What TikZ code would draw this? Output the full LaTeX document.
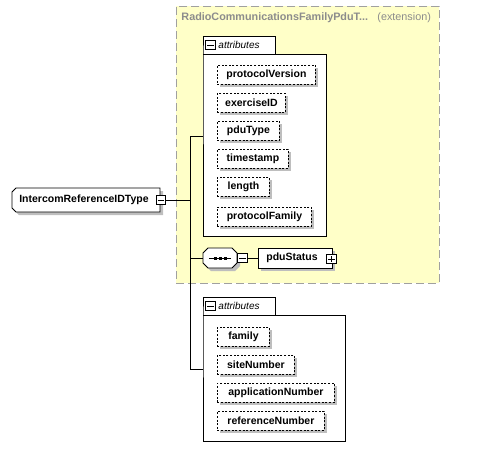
\documentclass[tikz,border=0pt]{standalone}
\usepackage{fontspec}
\setmainfont{Liberation Sans}
\definecolor{extyellow}{HTML}{FFFFC8}
\definecolor{extborder}{HTML}{A0A0A0}
\definecolor{shadowc}{HTML}{BEBEBE}
\definecolor{titlegray}{HTML}{8C8C8C}
\tikzset{
  elfont/.style={font=\bfseries\fontsize{10.5}{12}\selectfont},
  attrbox/.style={draw, dash pattern=on 2pt off 1.6pt, fill=white, elfont, inner sep=0pt,
    minimum height=19pt, anchor=north west},
  shadowfill/.style={fill=shadowc, draw=none},
  tog/.style={draw, fill=white, minimum size=9.5pt, inner sep=0pt},
}
\newcommand{\attr}[4]{% name, top y, width, text
  \fill[shadowfill] (220,#2+3) rectangle (217+#3+3,#2+22);
  \node[attrbox, minimum width=#3 pt] (#1) at (217,#2) {#4};
}
\begin{document}
\begin{tikzpicture}[x={(1pt,0)}, y={(0,-1pt)}, line width=0.9pt]
\useasboundingbox (0,0) rectangle (484,458);

% extension region
\node[draw=extborder, dash pattern=on 8pt off 4pt, fill=extyellow, anchor=north west,
  minimum width=263pt, minimum height=277pt, inner sep=0pt] (ext) at (176,6) {};
\node[anchor=west, text=titlegray, font=\bfseries\fontsize{10.8}{12}\selectfont, inner sep=0pt]
  (title) at (181,18) {RadioCommunicationsFamilyPduT...};
\node[anchor=west, text=titlegray, font=\fontsize{10.8}{12}\selectfont, inner sep=0pt]
  (extlbl) at (377,18) {(extension)};

% spine
\coordinate (sp) at (190,200);

% attributes group 1
\draw[fill=white] (203,54) -- (203,36) -- (275,36) -- (275,54) -- (326,54) -- (326,236) -- (203,236) -- cycle;
\draw (203,54) -- (275,54);
\node[minimum width=123pt, minimum height=200pt, anchor=north west, inner sep=0pt] (a1) at (203,36) {};
\node[tog] (t1) at (210.5,45) {};
\draw ([xshift=2pt]t1.west) -- ([xshift=-2pt]t1.east);
\node[anchor=west, inner sep=0pt, font=\itshape\fontsize{10}{12}\selectfont] (t1l) at (218,45) {attributes};
\attr{pv}{65}{98}{protocolVersion}
\attr{ex}{93}{68}{exerciseID}
\attr{pt}{121}{62}{pduType}
\attr{ts}{149}{71}{timestamp}
\attr{ln}{177}{52}{length}
\attr{pf}{207}{94}{protocolFamily}

% attributes group 2
\draw[fill=white] (203,315) -- (203,297) -- (275,297) -- (275,315) -- (345,315) -- (345,441) -- (203,441) -- cycle;
\draw (203,315) -- (275,315);
\node[minimum width=142pt, minimum height=144pt, anchor=north west, inner sep=0pt] (a2) at (203,297) {};
\node[tog] (t2) at (210.5,306) {};
\draw ([xshift=2pt]t2.west) -- ([xshift=-2pt]t2.east);
\node[anchor=west, inner sep=0pt, font=\itshape\fontsize{10}{12}\selectfont] (t2l) at (218,306) {attributes};
\attr{fa}{327}{52}{family}
\attr{sn}{355}{77}{siteNumber}
\attr{an}{383}{117}{applicationNumber}
\attr{rn}{411}{107}{referenceNumber}

% main element
\fill[shadowfill, shift={(3,3)}] (16,188) -- (160,188) -- (160,212) -- (16,212) -- (12,208) -- (12,192) -- cycle;
\draw[fill=white] (16,188) -- (160,188) -- (160,212) -- (16,212) -- (12,208) -- (12,192) -- cycle;
\node[elfont, inner sep=0pt] (main) at (84,200) {IntercomReferenceIDType};
\node[tog] (mm) at (161,200) {};
\draw ([xshift=2pt]mm.west) -- ([xshift=-2pt]mm.east);

% sequence compositor
\fill[shadowfill, shift={(3,3)}] (208,248) -- (232,248) -- (237,253) -- (237,263) -- (232,268) -- (208,268) -- (203,263) -- (203,253) -- cycle;
\draw[fill=white] (208,248) -- (232,248) -- (237,253) -- (237,263) -- (232,268) -- (208,268) -- (203,263) -- (203,253) -- cycle;
\node[minimum width=34pt, minimum height=20pt, inner sep=0pt] (seq) at (220,258) {};
\draw (209,258) -- (231,258);
\foreach \dx in {215,220,225} \fill (\dx-1.5,256.5) rectangle (\dx+1.5,259.5);
\node[tog] (sm) at (242.5,258) {};
\draw ([xshift=2pt]sm.west) -- ([xshift=-2pt]sm.east);

% pduStatus
\fill[shadowfill] (261,251) rectangle (335,271);
\node[draw, fill=white, elfont, minimum width=74pt, minimum height=20pt, inner sep=0pt] (ps) at (295,258) {\hspace*{-6pt}pduStatus};
\node[tog] (pp) at (331.5,259) {};
\draw ([xshift=2pt]pp.west) -- ([xshift=-2pt]pp.east);
\draw ([yshift=2pt]pp.south) -- ([yshift=-2pt]pp.north);

% connectors
\draw (mm.east) -- (mm.east -| sp);
\draw (a1.west) -- (a1.west -| sp) -- (a2.west -| sp) -- (a2.west);
\draw (seq.west -| sp) -- (seq.west);
\draw (seq.east) -- (sm.west);
\draw (sm.east) -- (ps.west);
\end{tikzpicture}
\end{document}
